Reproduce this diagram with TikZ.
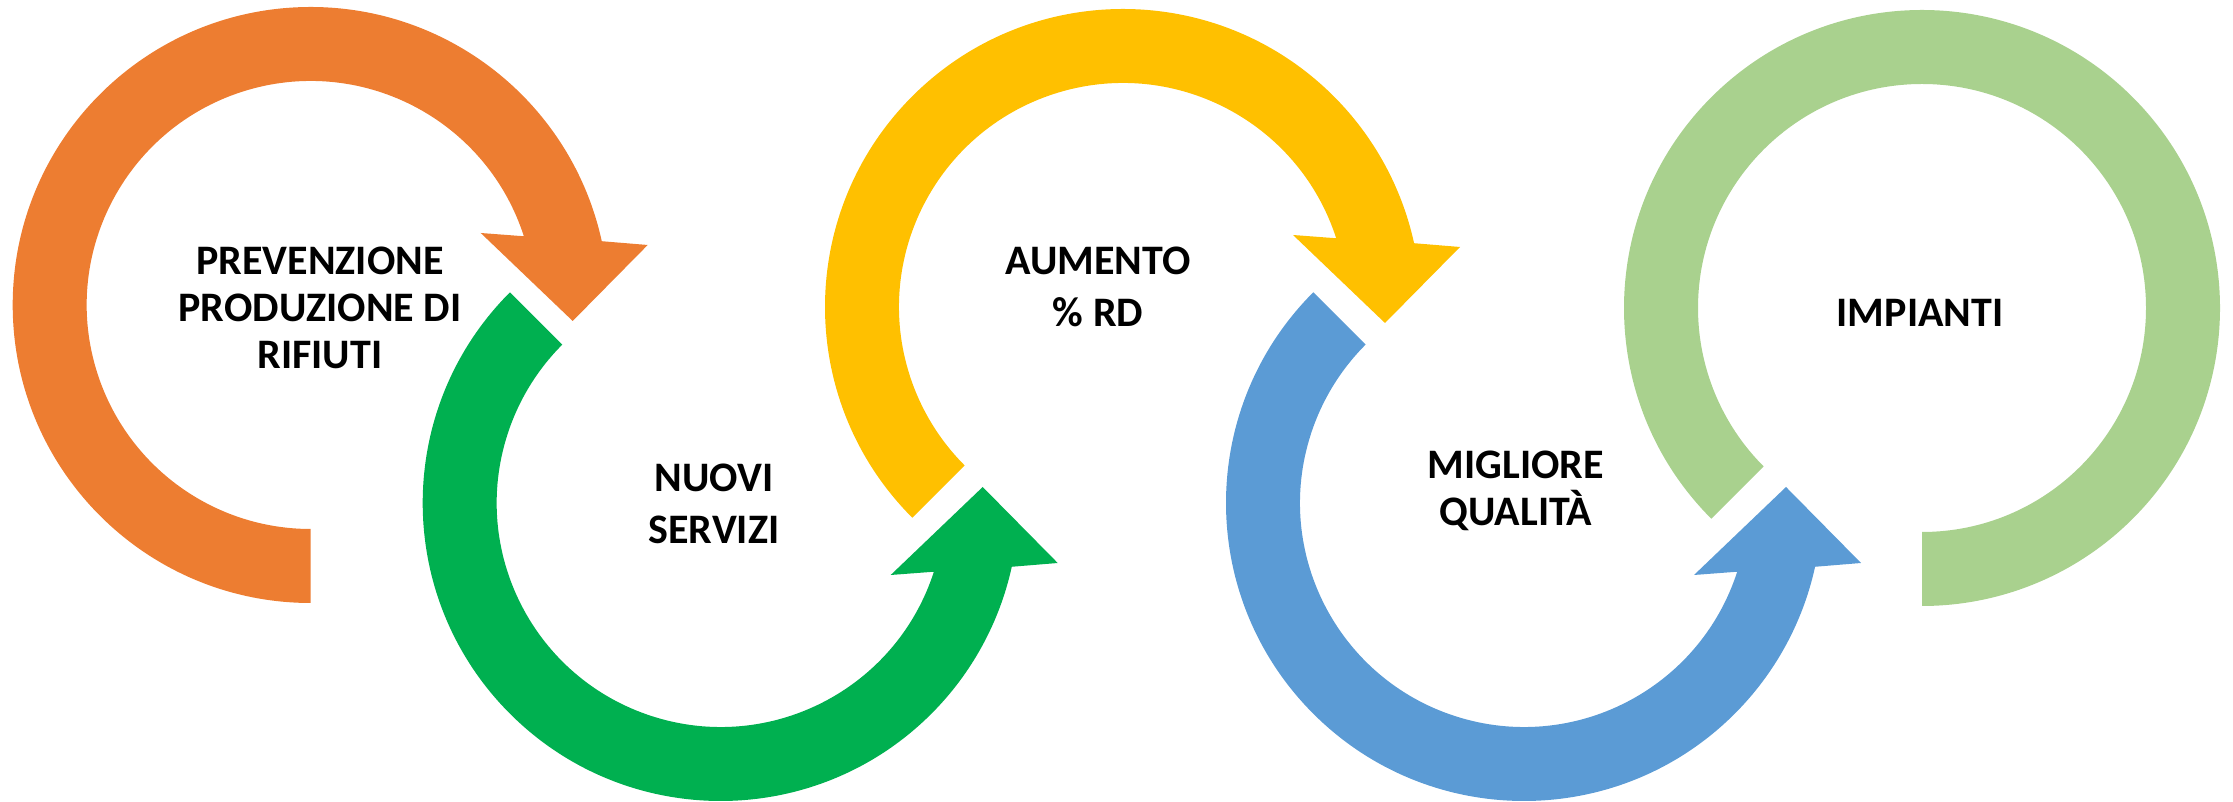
\documentclass[tikz,border=0pt]{standalone}
\usepackage{fontspec}
\setmainfont{Carlito}
\definecolor{corange}{HTML}{ED7D31}
\definecolor{cgreen}{HTML}{00B050}
\definecolor{cyellow}{HTML}{FFC000}
\definecolor{cblue}{HTML}{5B9BD5}
\definecolor{clgreen}{HTML}{A9D18E}
% ring arrow: colour, start angle; centred at scope origin
\newcommand\myring[2]{%
  \fill[#1] (#2:224) -- (#2:298)
    arc[start angle=#2, end angle=12.36, radius=298]
    -- (337,60) -- (262,-16) -- (170,72) -- (17.87:224)
    arc[start angle=17.87, end angle=#2, radius=224] -- cycle;}
\begin{document}
\begin{tikzpicture}[x=1pt,y=1pt,
  lbl/.style={font=\fontsize{42}{47}\selectfont\bfseries, align=center,
    inner sep=0pt, anchor=north, text=black}]
\useasboundingbox (0,0) rectangle (2233,802);
\begin{scope}[shift={(310.7,497)}]
  \myring{corange}{270}
\end{scope}
\begin{scope}[shift={(720.7,299)},yscale=-1]
  \myring{cgreen}{225}
\end{scope}
\begin{scope}[shift={(1123,495)}]
  \myring{cyellow}{225}
\end{scope}
\begin{scope}[shift={(1524,299)},yscale=-1]
  \myring{cblue}{225}
\end{scope}
\begin{scope}[shift={(1922,494)}]
  \fill[clgreen] (225:224) -- (225:298)
    arc[start angle=225, end angle=-90, radius=298]
    -- (-90:224) arc[start angle=-90, end angle=225, radius=224] -- cycle;
\end{scope}
\node[lbl] (t1) at (320,555) {PREVENZIONE\\PRODUZIONE DI\\RIFIUTI};
\node[lbl] (t2) at (714,338) {NUOVI\\[5pt]SERVIZI};
\node[lbl] (t3) at (1098,555) {AUMENTO\\[5pt]\% RD};
\node[lbl] (t4) at (1516,351) {MIGLIORE\\QUALITÀ};
\node[lbl] (t5) at (1920,503) {IMPIANTI};
\end{tikzpicture}
\end{document}
